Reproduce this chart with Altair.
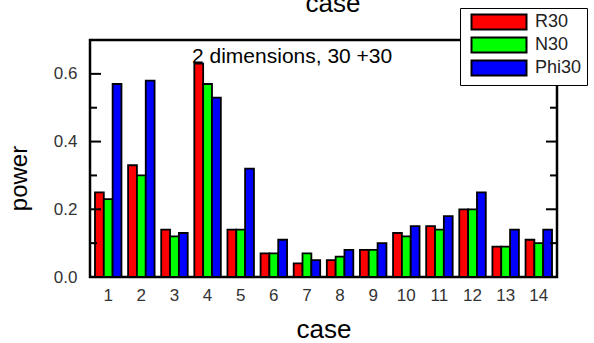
import altair as alt
import pandas as pd

cases = [str(i) for i in range(1, 15)]
series = ["R30", "N30", "Phi30"]
r30 = [0.25, 0.33, 0.14, 0.63, 0.14, 0.07, 0.04, 0.05, 0.08, 0.13, 0.15, 0.20, 0.09, 0.11]
n30 = [0.23, 0.30, 0.12, 0.57, 0.14, 0.07, 0.07, 0.06, 0.08, 0.12, 0.14, 0.20, 0.09, 0.10]
phi30 = [0.57, 0.58, 0.13, 0.53, 0.32, 0.11, 0.05, 0.08, 0.10, 0.15, 0.18, 0.25, 0.14, 0.14]
colors = ["#ff0000", "#00ff00", "#0000ff"]
y_labels = [0.0, 0.2, 0.4, 0.6]
major_ticks = [0.2, 0.4, 0.6]
minor_ticks = [0.1, 0.3, 0.5]
annotation = "2 dimensions, 30 +30"
top_title = "case"

rows = []
for name, vals in zip(series, [r30, n30, phi30]):
    for c, v in zip(cases, vals):
        rows.append({"case": c, "series": name, "power": v})
df = pd.DataFrame(rows)

W, H = 467, 237
FONT = "Liberation Sans"

yscale = alt.Scale(domain=[0, 0.7], nice=False, zero=True)

bars = alt.Chart(df).mark_bar(stroke="black", strokeWidth=1.8).encode(
    x=alt.X("case:N", sort=cases,
            scale=alt.Scale(paddingInner=0.2, paddingOuter=0.15),
            axis=alt.Axis(title="case", labelAngle=0, ticks=False, domain=False,
                          labelFontSize=17, labelPadding=10, labelColor="#333",
                          labelFont=FONT, titleFont=FONT, titleFontSize=26,
                          titleFontWeight="normal", titleBaseline="alphabetic",
                          titleY=60, titleColor="black")),
    xOffset=alt.XOffset("series:N", sort=series),
    y=alt.Y("power:Q", scale=yscale,
            axis=alt.Axis(title="power", values=y_labels, format=".1f", ticks=False,
                          domain=False, grid=False, labelFontSize=17, labelPadding=13,
                          labelColor="#333", labelFont=FONT, titleFont=FONT,
                          titleFontSize=24, titleFontWeight="normal",
                          titleBaseline="alphabetic", titleX=-64, titleY=138,
                          titleAngle=270, titleColor="black")),
    color=alt.Color("series:N", sort=series,
                    scale=alt.Scale(domain=series, range=colors),
                    legend=alt.Legend(
                        title=None, orient="none", legendX=370, legendY=-32,
                        strokeColor="black", fillColor="white", padding=5,
                        symbolType="M-0.333,-1L7,-1L7,1L-0.333,1Z",
                        symbolSize=225, symbolStrokeColor="black",
                        symbolStrokeWidth=2, symbolOpacity=1,
                        labelFontSize=18, labelFont=FONT, labelColor="#222",
                        labelOffset=52, rowPadding=-1)),
)

tick_df_major = pd.DataFrame({"v": major_ticks})
tick_df_minor = pd.DataFrame({"v": minor_ticks})

def ticks(d, xpos, length):
    return alt.Chart(d).mark_tick(color="black", thickness=2, orient="horizontal",
                                  opacity=1).encode(
        y=alt.Y("v:Q", scale=yscale), x=alt.value(xpos), size=alt.value(length))

ticks_layer = (ticks(tick_df_major, 5.5, 11) + ticks(tick_df_minor, 3.5, 7)
               + ticks(tick_df_major, W - 5.5, 11) + ticks(tick_df_minor, W - 3.5, 7))

note = alt.Chart(pd.DataFrame({"t": [annotation]})).mark_text(
    align="left", baseline="alphabetic", fontSize=21, font=FONT, color="black"
).encode(text="t:N", x=alt.value(102), y=alt.value(23))

top = alt.Chart(pd.DataFrame({"t": [top_title]})).mark_text(
    align="center", baseline="alphabetic", fontSize=26, font=FONT, color="black"
).encode(text="t:N", x=alt.value(243), y=alt.value(-28))

chart = alt.layer(bars, ticks_layer, note, top).properties(
    width=W, height=H,
    background="white",
    autosize=alt.AutoSizeParams(type="none"),
    padding={"left": 90, "top": 40, "right": 37, "bottom": 66},
).configure_view(stroke="black", strokeWidth=2.5)

chart.save("out.html", embed_options={"renderer": "svg", "actions": False})
